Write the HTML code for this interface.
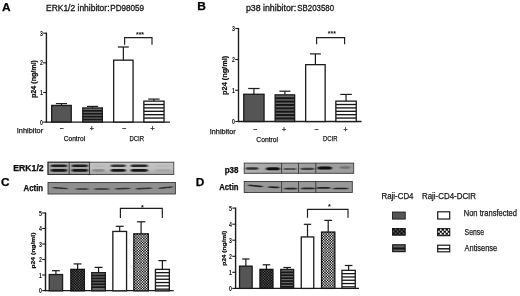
<!DOCTYPE html>
<html><head><meta charset="utf-8"><title>Figure</title>
<style>
html,body{margin:0;padding:0;background:#fff;}
body{width:520px;height:296px;overflow:hidden;}
svg{display:block;font-family:"Liberation Sans",sans-serif;}
</style></head><body>
<svg width="520" height="296" viewBox="0 0 520 296">
<defs>
<linearGradient id="gE" x1="0" y1="0" x2="0" y2="1"><stop offset="0" stop-color="#c6c6c6"/><stop offset="0.6" stop-color="#bdbdbd"/><stop offset="1" stop-color="#a4a4a4"/></linearGradient>
<linearGradient id="gE2" x1="0" y1="0" x2="0" y2="1"><stop offset="0" stop-color="#b4b4b4"/><stop offset="0.5" stop-color="#a2a2a2"/><stop offset="1" stop-color="#9a9a9a"/></linearGradient>
<linearGradient id="gP" x1="0" y1="0" x2="1" y2="0"><stop offset="0" stop-color="#b2b2b2"/><stop offset="0.35" stop-color="#a2a2a2"/><stop offset="1" stop-color="#9c9c9c"/></linearGradient>
<filter id="bl" x="-10%" y="-50%" width="120%" height="200%"><feGaussianBlur stdDeviation="0.9 0.55"/></filter>
<filter id="soft"><feGaussianBlur stdDeviation="0.3"/></filter>
<filter id="soft2"><feGaussianBlur stdDeviation="0.12"/></filter>
</defs>
<rect width="520" height="296" fill="#fff"/>
<g filter="url(#soft)">

<text x="1.9" y="10.8" font-size="11.2" font-weight="bold" fill="#000" stroke="#000" stroke-width="0.25" textLength="8.6" lengthAdjust="spacingAndGlyphs">A</text>
<text y="10.6" font-size="8.5" fill="#161616" stroke="#161616" stroke-width="0.3"><tspan x="46" textLength="63.5" lengthAdjust="spacingAndGlyphs">ERK1/2 inhibitor:</tspan><tspan x="110.3" textLength="33.7" lengthAdjust="spacingAndGlyphs">PD98059</tspan></text>
<line x1="46.4" y1="32.6" x2="46.4" y2="122.69999999999999" stroke="#1a1a1a" stroke-width="1.4"/>
<line x1="45.8" y1="122.1" x2="170" y2="122.1" stroke="#1a1a1a" stroke-width="1.4"/>
<line x1="43.1" y1="33.2" x2="46.4" y2="33.2" stroke="#1a1a1a" stroke-width="1.1"/>
<text x="42.8" y="35.800000000000004" font-size="6.3" font-weight="bold" text-anchor="end" fill="#0a0a0a" textLength="2.9" lengthAdjust="spacingAndGlyphs" >3</text>
<line x1="43.1" y1="62.8" x2="46.4" y2="62.8" stroke="#1a1a1a" stroke-width="1.1"/>
<text x="42.8" y="65.39999999999999" font-size="6.3" font-weight="bold" text-anchor="end" fill="#0a0a0a" textLength="2.9" lengthAdjust="spacingAndGlyphs" >2</text>
<line x1="43.1" y1="92.5" x2="46.4" y2="92.5" stroke="#1a1a1a" stroke-width="1.1"/>
<text x="42.8" y="95.1" font-size="6.3" font-weight="bold" text-anchor="end" fill="#0a0a0a" textLength="2.9" lengthAdjust="spacingAndGlyphs" >1</text>
<line x1="43.1" y1="122.1" x2="46.4" y2="122.1" stroke="#1a1a1a" stroke-width="1.1"/>
<text x="42.8" y="124.69999999999999" font-size="6.3" font-weight="bold" text-anchor="end" fill="#0a0a0a" textLength="2.9" lengthAdjust="spacingAndGlyphs" >0</text>
<line x1="61.45" y1="103.6" x2="61.45" y2="105.45" stroke="#1a1a1a" stroke-width="1.2"/>
<line x1="55.911500000000004" y1="103.6" x2="66.9885" y2="103.6" stroke="#1a1a1a" stroke-width="1.2"/>
<rect x="51.65" y="105.45" width="19.6" height="16.549999999999997" fill="#555" stroke="#1a1a1a" stroke-width="1.3"/>
<line x1="92.55" y1="106.4" x2="92.55" y2="107.95" stroke="#1a1a1a" stroke-width="1.2"/>
<line x1="87.0115" y1="106.4" x2="98.0885" y2="106.4" stroke="#1a1a1a" stroke-width="1.2"/>
<rect x="82.75" y="107.95" width="19.599999999999994" height="14.049999999999997" fill="#676767"/>
<rect x="82.75" y="110.01" width="19.599999999999994" height="1.68" fill="#151515"/>
<rect x="82.75" y="112.91" width="19.599999999999994" height="1.68" fill="#151515"/>
<rect x="82.75" y="115.81" width="19.599999999999994" height="1.68" fill="#151515"/>
<rect x="82.75" y="118.71" width="19.599999999999994" height="1.68" fill="#151515"/>
<rect x="82.75" y="107.95" width="19.599999999999994" height="14.049999999999997" fill="none" stroke="#1a1a1a" stroke-width="1.3"/>
<line x1="123.35" y1="47" x2="123.35" y2="60.15" stroke="#1a1a1a" stroke-width="1.2"/>
<line x1="117.86449999999999" y1="47" x2="128.8355" y2="47" stroke="#1a1a1a" stroke-width="1.2"/>
<rect x="113.65" y="60.15" width="19.399999999999977" height="61.85" fill="#fff" stroke="#1a1a1a" stroke-width="1.3"/>
<line x1="153.95" y1="99.1" x2="153.95" y2="101.15" stroke="#1a1a1a" stroke-width="1.2"/>
<line x1="148.2525" y1="99.1" x2="159.64749999999998" y2="99.1" stroke="#1a1a1a" stroke-width="1.2"/>
<rect x="143.85" y="101.15" width="20.19999999999999" height="20.849999999999994" fill="#fff"/>
<rect x="143.85" y="103.85" width="20.19999999999999" height="1.35" fill="#151515"/>
<rect x="143.85" y="107.23" width="20.19999999999999" height="1.35" fill="#151515"/>
<rect x="143.85" y="110.61" width="20.19999999999999" height="1.35" fill="#151515"/>
<rect x="143.85" y="113.99" width="20.19999999999999" height="1.35" fill="#151515"/>
<rect x="143.85" y="117.37" width="20.19999999999999" height="1.35" fill="#151515"/>
<rect x="143.85" y="101.15" width="20.19999999999999" height="20.849999999999994" fill="none" stroke="#1a1a1a" stroke-width="1.3"/>
<polyline points="124.6,44.7 124.6,37.6 152,37.6 152,44.7" fill="none" stroke="#1a1a1a" stroke-width="1.15"/>
<text x="140" y="37.4" font-size="7" font-weight="bold" text-anchor="middle" fill="#111" >***</text>
<text transform="translate(35.9,79) rotate(-90)" font-size="6.7" font-weight="bold" text-anchor="middle" fill="#0a0a0a" stroke="#0a0a0a" stroke-width="0.2" textLength="38" lengthAdjust="spacingAndGlyphs">p24 (ng/ml)</text>
<text x="16.8" y="133.2" font-size="7.5" font-weight="normal" text-anchor="start" fill="#161616" stroke="#161616" stroke-width="0.25" textLength="26.3" lengthAdjust="spacingAndGlyphs" >Inhibitor</text>
<text x="61.5" y="131.4" font-size="7" font-weight="normal" text-anchor="middle" fill="#161616" stroke="#161616" stroke-width="0.25" >−</text>
<text x="91.8" y="131.4" font-size="7" font-weight="normal" text-anchor="middle" fill="#161616" stroke="#161616" stroke-width="0.25" >+</text>
<text x="124" y="131.4" font-size="7" font-weight="normal" text-anchor="middle" fill="#161616" stroke="#161616" stroke-width="0.25" >−</text>
<text x="152.5" y="131.4" font-size="7" font-weight="normal" text-anchor="middle" fill="#161616" stroke="#161616" stroke-width="0.25" >+</text>
<text x="74.4" y="141.2" font-size="7.5" font-weight="normal" text-anchor="middle" fill="#161616" stroke="#161616" stroke-width="0.25" textLength="21.5" lengthAdjust="spacingAndGlyphs" >Control</text>
<text x="136.8" y="141.2" font-size="7.5" font-weight="normal" text-anchor="middle" fill="#161616" stroke="#161616" stroke-width="0.25" textLength="14.5" lengthAdjust="spacingAndGlyphs" >DCIR</text>
<text x="197.3" y="10.3" font-size="11.2" font-weight="bold" fill="#000" stroke="#000" stroke-width="0.25" textLength="8.6" lengthAdjust="spacingAndGlyphs">B</text>
<text y="10.6" font-size="8.5" fill="#161616" stroke="#161616" stroke-width="0.3"><tspan x="245.9" textLength="50.3" lengthAdjust="spacingAndGlyphs">p38 inhibitor:</tspan><tspan x="297.3" textLength="36.7" lengthAdjust="spacingAndGlyphs">SB203580</tspan></text>
<line x1="238.5" y1="27.9" x2="238.5" y2="122.1" stroke="#1a1a1a" stroke-width="1.4"/>
<line x1="237.9" y1="121.5" x2="361.5" y2="121.5" stroke="#1a1a1a" stroke-width="1.4"/>
<line x1="235.2" y1="28.5" x2="238.5" y2="28.5" stroke="#1a1a1a" stroke-width="1.1"/>
<text x="234.9" y="31.1" font-size="6.3" font-weight="bold" text-anchor="end" fill="#0a0a0a" textLength="2.9" lengthAdjust="spacingAndGlyphs" >3</text>
<line x1="235.2" y1="59.5" x2="238.5" y2="59.5" stroke="#1a1a1a" stroke-width="1.1"/>
<text x="234.9" y="62.1" font-size="6.3" font-weight="bold" text-anchor="end" fill="#0a0a0a" textLength="2.9" lengthAdjust="spacingAndGlyphs" >2</text>
<line x1="235.2" y1="90.3" x2="238.5" y2="90.3" stroke="#1a1a1a" stroke-width="1.1"/>
<text x="234.9" y="92.89999999999999" font-size="6.3" font-weight="bold" text-anchor="end" fill="#0a0a0a" textLength="2.9" lengthAdjust="spacingAndGlyphs" >1</text>
<line x1="235.2" y1="121.5" x2="238.5" y2="121.5" stroke="#1a1a1a" stroke-width="1.1"/>
<text x="234.9" y="124.1" font-size="6.3" font-weight="bold" text-anchor="end" fill="#0a0a0a" textLength="2.9" lengthAdjust="spacingAndGlyphs" >0</text>
<line x1="253.89999999999998" y1="88.5" x2="253.89999999999998" y2="94.25" stroke="#1a1a1a" stroke-width="1.2"/>
<line x1="248.176" y1="88.5" x2="259.62399999999997" y2="88.5" stroke="#1a1a1a" stroke-width="1.2"/>
<rect x="243.75" y="94.25" width="20.30000000000001" height="27.25" fill="#555" stroke="#1a1a1a" stroke-width="1.3"/>
<line x1="284.9" y1="91.2" x2="284.9" y2="94.85000000000001" stroke="#1a1a1a" stroke-width="1.2"/>
<line x1="279.388" y1="91.2" x2="290.412" y2="91.2" stroke="#1a1a1a" stroke-width="1.2"/>
<rect x="275.15" y="94.85000000000001" width="19.500000000000057" height="26.64999999999999" fill="#676767"/>
<rect x="275.15" y="97.24" width="19.500000000000057" height="1.95" fill="#151515"/>
<rect x="275.15" y="100.61" width="19.500000000000057" height="1.95" fill="#151515"/>
<rect x="275.15" y="103.98" width="19.500000000000057" height="1.95" fill="#151515"/>
<rect x="275.15" y="107.35" width="19.500000000000057" height="1.95" fill="#151515"/>
<rect x="275.15" y="110.72" width="19.500000000000057" height="1.95" fill="#151515"/>
<rect x="275.15" y="114.09" width="19.500000000000057" height="1.95" fill="#151515"/>
<rect x="275.15" y="117.46" width="19.500000000000057" height="1.95" fill="#151515"/>
<rect x="275.15" y="94.85000000000001" width="19.500000000000057" height="26.64999999999999" fill="none" stroke="#1a1a1a" stroke-width="1.3"/>
<line x1="315.4" y1="53.9" x2="315.4" y2="64.65" stroke="#1a1a1a" stroke-width="1.2"/>
<line x1="309.888" y1="53.9" x2="320.912" y2="53.9" stroke="#1a1a1a" stroke-width="1.2"/>
<rect x="305.65" y="64.65" width="19.500000000000057" height="56.849999999999994" fill="#fff" stroke="#1a1a1a" stroke-width="1.3"/>
<line x1="346.04999999999995" y1="94.4" x2="346.04999999999995" y2="101.15" stroke="#1a1a1a" stroke-width="1.2"/>
<line x1="340.29949999999997" y1="94.4" x2="351.80049999999994" y2="94.4" stroke="#1a1a1a" stroke-width="1.2"/>
<rect x="335.84999999999997" y="101.15" width="20.400000000000034" height="20.349999999999994" fill="#fff"/>
<rect x="335.84999999999997" y="103.85" width="20.400000000000034" height="1.35" fill="#151515"/>
<rect x="335.84999999999997" y="107.23" width="20.400000000000034" height="1.35" fill="#151515"/>
<rect x="335.84999999999997" y="110.61" width="20.400000000000034" height="1.35" fill="#151515"/>
<rect x="335.84999999999997" y="113.99" width="20.400000000000034" height="1.35" fill="#151515"/>
<rect x="335.84999999999997" y="117.37" width="20.400000000000034" height="1.35" fill="#151515"/>
<rect x="335.84999999999997" y="101.15" width="20.400000000000034" height="20.349999999999994" fill="none" stroke="#1a1a1a" stroke-width="1.3"/>
<polyline points="316.6,44.3 316.6,37.6 344.6,37.6 344.6,44.3" fill="none" stroke="#1a1a1a" stroke-width="1.15"/>
<text x="331.9" y="36.1" font-size="7" font-weight="bold" text-anchor="middle" fill="#111" >***</text>
<text transform="translate(227.2,75.4) rotate(-90)" font-size="6.7" font-weight="bold" text-anchor="middle" fill="#0a0a0a" stroke="#0a0a0a" stroke-width="0.2" textLength="39" lengthAdjust="spacingAndGlyphs">p24 (ng/ml)</text>
<text x="209.8" y="133.7" font-size="7.5" font-weight="normal" text-anchor="start" fill="#161616" stroke="#161616" stroke-width="0.25" textLength="25.8" lengthAdjust="spacingAndGlyphs" >Inhibitor</text>
<text x="255" y="131.9" font-size="7" font-weight="normal" text-anchor="middle" fill="#161616" stroke="#161616" stroke-width="0.25" >−</text>
<text x="284" y="131.9" font-size="7" font-weight="normal" text-anchor="middle" fill="#161616" stroke="#161616" stroke-width="0.25" >+</text>
<text x="316.2" y="131.9" font-size="7" font-weight="normal" text-anchor="middle" fill="#161616" stroke="#161616" stroke-width="0.25" >−</text>
<text x="345.5" y="131.9" font-size="7" font-weight="normal" text-anchor="middle" fill="#161616" stroke="#161616" stroke-width="0.25" >+</text>
<text x="267.2" y="142" font-size="7.5" font-weight="normal" text-anchor="middle" fill="#161616" stroke="#161616" stroke-width="0.25" textLength="21.7" lengthAdjust="spacingAndGlyphs" >Control</text>
<text x="330.3" y="141" font-size="7.5" font-weight="normal" text-anchor="middle" fill="#161616" stroke="#161616" stroke-width="0.25" textLength="14.6" lengthAdjust="spacingAndGlyphs" >DCIR</text>
<text x="13.3" y="171.4" font-size="8.4" font-weight="bold" fill="#0a0a0a" stroke="#0a0a0a" stroke-width="0.25" textLength="30.3" lengthAdjust="spacingAndGlyphs">ERK1/2</text>
<text x="23.5" y="191.4" font-size="8.4" font-weight="bold" fill="#0a0a0a" stroke="#0a0a0a" stroke-width="0.25" textLength="19.6" lengthAdjust="spacingAndGlyphs">Actin</text>
<text x="1.0" y="185.6" font-size="11.2" font-weight="bold" fill="#000" stroke="#000" stroke-width="0.25" textLength="8.6" lengthAdjust="spacingAndGlyphs">C</text>
<rect x="48" y="162.2" width="125.8" height="12.3" fill="url(#gE)"/>
<rect x="48" y="162.2" width="41.6" height="12.3" fill="url(#gE2)"/>
<g filter="url(#bl)">
<rect x="50.5" y="164.5" width="16.799999999999997" height="2.6" rx="3" ry="1.3" fill="#141414" opacity="0.95"/>
<rect x="50.5" y="169.0" width="16.799999999999997" height="2.8" rx="3" ry="1.4" fill="#141414" opacity="1"/>
<rect x="71.5" y="164.5" width="16.700000000000003" height="2.6" rx="3" ry="1.3" fill="#141414" opacity="0.95"/>
<rect x="71.5" y="169.0" width="16.700000000000003" height="2.8" rx="3" ry="1.4" fill="#141414" opacity="1"/>
<rect x="92" y="164.5" width="13" height="2.6" rx="3" ry="1.3" fill="#141414" opacity="0.05"/>
<rect x="92" y="169.0" width="13" height="2.8" rx="3" ry="1.4" fill="#141414" opacity="0.25"/>
<rect x="110.5" y="164.5" width="15.5" height="2.6" rx="3" ry="1.3" fill="#141414" opacity="0.8"/>
<rect x="110.5" y="169.0" width="15.5" height="2.8" rx="3" ry="1.4" fill="#141414" opacity="1"/>
<rect x="130.5" y="164.5" width="17.5" height="2.6" rx="3" ry="1.3" fill="#141414" opacity="0.9"/>
<rect x="130.5" y="169.0" width="17.5" height="2.8" rx="3" ry="1.4" fill="#141414" opacity="1"/>
<rect x="155" y="164.5" width="16" height="2.6" rx="3" ry="1.3" fill="#141414" opacity="0.04"/>
<rect x="155" y="169.0" width="16" height="2.8" rx="3" ry="1.4" fill="#141414" opacity="0.1"/>
</g>
<rect x="48" y="162.2" width="125.8" height="12.3" fill="none" stroke="#444" stroke-width="0.9"/>
<rect x="48" y="162.2" width="41.6" height="12.3" fill="none" stroke="#2e2e2e" stroke-width="0.9"/>
<line x1="69.2" y1="162.2" x2="69.2" y2="174.5" stroke="#2a2a2a" stroke-width="0.8"/>
<rect x="48" y="182.5" width="127.4" height="11.5" fill="#8f8f8f" stroke="#3a3a3a" stroke-width="0.9"/>
<g filter="url(#bl)">
<rect x="52.5" y="187.45" width="15.5" height="1.5" rx="3" ry="0.75" fill="#1c1c1c" opacity="0.85" transform="rotate(4 60.25 188.2)"/>
<rect x="75.5" y="188.25" width="13.299999999999997" height="1.5" rx="3" ry="0.75" fill="#1c1c1c" opacity="0.85"/>
<rect x="94" y="188.15" width="15.5" height="1.5" rx="3" ry="0.75" fill="#1c1c1c" opacity="0.85"/>
<rect x="115" y="187.85" width="15.5" height="1.5" rx="3" ry="0.75" fill="#1c1c1c" opacity="0.85" transform="rotate(-2 122.75 188.6)"/>
<rect x="135.5" y="187.75" width="16.5" height="1.5" rx="3" ry="0.75" fill="#1c1c1c" opacity="0.85" transform="rotate(-2 143.75 188.5)"/>
<rect x="158.5" y="186.85" width="14.5" height="1.5" rx="3" ry="0.75" fill="#1c1c1c" opacity="0.85" transform="rotate(-6 165.75 187.6)"/>
</g>
<line x1="45.5" y1="212.4" x2="45.5" y2="291.20000000000005" stroke="#1a1a1a" stroke-width="1.4"/>
<line x1="44.9" y1="290.6" x2="173.6" y2="290.6" stroke="#1a1a1a" stroke-width="1.4"/>
<line x1="42.2" y1="213" x2="45.5" y2="213" stroke="#1a1a1a" stroke-width="1.1"/>
<text x="41.9" y="215.6" font-size="6.3" font-weight="bold" text-anchor="end" fill="#0a0a0a" textLength="2.9" lengthAdjust="spacingAndGlyphs" >5</text>
<line x1="42.2" y1="228.5" x2="45.5" y2="228.5" stroke="#1a1a1a" stroke-width="1.1"/>
<text x="41.9" y="231.1" font-size="6.3" font-weight="bold" text-anchor="end" fill="#0a0a0a" textLength="2.9" lengthAdjust="spacingAndGlyphs" >4</text>
<line x1="42.2" y1="244" x2="45.5" y2="244" stroke="#1a1a1a" stroke-width="1.1"/>
<text x="41.9" y="246.6" font-size="6.3" font-weight="bold" text-anchor="end" fill="#0a0a0a" textLength="2.9" lengthAdjust="spacingAndGlyphs" >3</text>
<line x1="42.2" y1="259.5" x2="45.5" y2="259.5" stroke="#1a1a1a" stroke-width="1.1"/>
<text x="41.9" y="262.1" font-size="6.3" font-weight="bold" text-anchor="end" fill="#0a0a0a" textLength="2.9" lengthAdjust="spacingAndGlyphs" >2</text>
<line x1="42.2" y1="275" x2="45.5" y2="275" stroke="#1a1a1a" stroke-width="1.1"/>
<text x="41.9" y="277.6" font-size="6.3" font-weight="bold" text-anchor="end" fill="#0a0a0a" textLength="2.9" lengthAdjust="spacingAndGlyphs" >1</text>
<line x1="42.2" y1="290.6" x2="45.5" y2="290.6" stroke="#1a1a1a" stroke-width="1.1"/>
<text x="41.9" y="293.20000000000005" font-size="6.3" font-weight="bold" text-anchor="end" fill="#0a0a0a" textLength="2.9" lengthAdjust="spacingAndGlyphs" >0</text>
<line x1="55.900000000000006" y1="270.7" x2="55.900000000000006" y2="274.54999999999995" stroke="#1a1a1a" stroke-width="1.2"/>
<line x1="52.031000000000006" y1="270.7" x2="59.769000000000005" y2="270.7" stroke="#1a1a1a" stroke-width="1.2"/>
<rect x="49.25" y="274.54999999999995" width="13.300000000000004" height="16.250000000000057" fill="#555" stroke="#1a1a1a" stroke-width="1.3"/>
<line x1="77.6" y1="263.9" x2="77.6" y2="269.34999999999997" stroke="#1a1a1a" stroke-width="1.2"/>
<line x1="73.678" y1="263.9" x2="81.52199999999999" y2="263.9" stroke="#1a1a1a" stroke-width="1.2"/>
<rect x="70.85000000000001" y="269.34999999999997" width="13.499999999999986" height="21.450000000000045" fill="#5a5a5a" stroke="#1a1a1a" stroke-width="1.3"/>
<line x1="98.55" y1="267.4" x2="98.55" y2="272.65" stroke="#1a1a1a" stroke-width="1.2"/>
<line x1="94.6015" y1="267.4" x2="102.49849999999999" y2="267.4" stroke="#1a1a1a" stroke-width="1.2"/>
<rect x="91.75" y="272.65" width="13.599999999999994" height="18.150000000000034" fill="#676767"/>
<rect x="91.75" y="274.71" width="13.599999999999994" height="1.68" fill="#151515"/>
<rect x="91.75" y="277.61" width="13.599999999999994" height="1.68" fill="#151515"/>
<rect x="91.75" y="280.51" width="13.599999999999994" height="1.68" fill="#151515"/>
<rect x="91.75" y="283.41" width="13.599999999999994" height="1.68" fill="#151515"/>
<rect x="91.75" y="286.31" width="13.599999999999994" height="1.68" fill="#151515"/>
<rect x="91.75" y="272.65" width="13.599999999999994" height="18.150000000000034" fill="none" stroke="#1a1a1a" stroke-width="1.3"/>
<line x1="119.7" y1="226.3" x2="119.7" y2="231.45000000000002" stroke="#1a1a1a" stroke-width="1.2"/>
<line x1="115.72500000000001" y1="226.3" x2="123.675" y2="226.3" stroke="#1a1a1a" stroke-width="1.2"/>
<rect x="112.85000000000001" y="231.45000000000002" width="13.699999999999989" height="59.349999999999994" fill="#fff" stroke="#1a1a1a" stroke-width="1.3"/>
<line x1="141.1" y1="221.8" x2="141.1" y2="233.85" stroke="#1a1a1a" stroke-width="1.2"/>
<line x1="136.91299999999998" y1="221.8" x2="145.287" y2="221.8" stroke="#1a1a1a" stroke-width="1.2"/>
<rect x="133.85" y="233.85" width="14.5" height="56.95000000000002" fill="#fff" stroke="#1a1a1a" stroke-width="1.3"/>
<line x1="162.4" y1="260.6" x2="162.4" y2="269.34999999999997" stroke="#1a1a1a" stroke-width="1.2"/>
<line x1="158.372" y1="260.6" x2="166.428" y2="260.6" stroke="#1a1a1a" stroke-width="1.2"/>
<rect x="155.45000000000002" y="269.34999999999997" width="13.899999999999977" height="21.450000000000045" fill="#fff"/>
<rect x="155.45000000000002" y="271.99" width="13.899999999999977" height="1.32" fill="#151515"/>
<rect x="155.45000000000002" y="275.29" width="13.899999999999977" height="1.32" fill="#151515"/>
<rect x="155.45000000000002" y="278.59" width="13.899999999999977" height="1.32" fill="#151515"/>
<rect x="155.45000000000002" y="281.89" width="13.899999999999977" height="1.32" fill="#151515"/>
<rect x="155.45000000000002" y="285.19" width="13.899999999999977" height="1.32" fill="#151515"/>
<rect x="155.45000000000002" y="288.49" width="13.899999999999977" height="1.32" fill="#151515"/>
<rect x="155.45000000000002" y="269.34999999999997" width="13.899999999999977" height="21.450000000000045" fill="none" stroke="#1a1a1a" stroke-width="1.3"/>
<polyline points="120.4,218 120.4,208.3 162.3,208.3 162.3,218" fill="none" stroke="#1a1a1a" stroke-width="1.15"/>
<text x="142.4" y="209.5" font-size="7" font-weight="bold" text-anchor="middle" fill="#111" >*</text>
<text transform="translate(35.3,250.6) rotate(-90)" font-size="6.1" font-weight="bold" text-anchor="middle" fill="#0a0a0a" stroke="#0a0a0a" stroke-width="0.2" textLength="36" lengthAdjust="spacingAndGlyphs">p24 (ng/ml)</text>
<text x="224.7" y="172.5" font-size="8.4" font-weight="bold" fill="#0a0a0a" stroke="#0a0a0a" stroke-width="0.25" textLength="13.8" lengthAdjust="spacingAndGlyphs">p38</text>
<text x="219.2" y="189.6" font-size="8.4" font-weight="bold" fill="#0a0a0a" stroke="#0a0a0a" stroke-width="0.25" textLength="19.3" lengthAdjust="spacingAndGlyphs">Actin</text>
<text x="195.8" y="186.1" font-size="11.2" font-weight="bold" fill="#000" stroke="#000" stroke-width="0.25" textLength="8.6" lengthAdjust="spacingAndGlyphs">D</text>
<rect x="244.2" y="163.1" width="109.5" height="10.2" fill="url(#gP)" stroke="#3a3a3a" stroke-width="0.9"/>
<line x1="281.6" y1="163.1" x2="281.6" y2="173.3" stroke="#2a2a2a" stroke-width="0.8"/>
<line x1="298.5" y1="163.1" x2="298.5" y2="173.3" stroke="#2a2a2a" stroke-width="0.8"/>
<line x1="315.8" y1="163.1" x2="315.8" y2="173.3" stroke="#2a2a2a" stroke-width="0.8"/>
<g filter="url(#bl)">
<rect x="245.5" y="167.15" width="13.0" height="2.7" rx="3" ry="1.35" fill="#0c0c0c" opacity="0.8"/>
<rect x="266" y="167.3" width="14" height="3.0" rx="3" ry="1.5" fill="#0c0c0c" opacity="1"/>
<rect x="283.5" y="167.9" width="13.0" height="2.0" rx="3" ry="1.0" fill="#0c0c0c" opacity="0.55"/>
<rect x="300.5" y="167.70000000000002" width="14.0" height="2.2" rx="3" ry="1.1" fill="#0c0c0c" opacity="0.7"/>
<rect x="317.5" y="166.6" width="14.5" height="3.0" rx="3" ry="1.5" fill="#0c0c0c" opacity="1"/>
<rect x="339.5" y="166.3" width="11.0" height="2.4" rx="2.75" ry="1.2" fill="#0c0c0c" opacity="0.28"/>
</g>
<rect x="244.2" y="181.5" width="108.1" height="11" fill="#989898" stroke="#3a3a3a" stroke-width="0.9"/>
<line x1="281.6" y1="181.5" x2="281.6" y2="192.5" stroke="#2a2a2a" stroke-width="0.8"/>
<line x1="298.5" y1="181.5" x2="298.5" y2="192.5" stroke="#2a2a2a" stroke-width="0.8"/>
<line x1="315.8" y1="181.5" x2="315.8" y2="192.5" stroke="#2a2a2a" stroke-width="0.8"/>
<g filter="url(#bl)">
<rect x="248" y="185.05" width="15" height="1.7" rx="3" ry="0.85" fill="#151515" opacity="0.9" transform="rotate(5 255.5 185.9)"/>
<rect x="268" y="186.45000000000002" width="11.5" height="1.7" rx="2.875" ry="0.85" fill="#151515" opacity="0.9" transform="rotate(3 273.75 187.3)"/>
<rect x="284" y="187.75" width="13.5" height="1.7" rx="3" ry="0.85" fill="#151515" opacity="0.9"/>
<rect x="301" y="187.55" width="14" height="1.7" rx="3" ry="0.85" fill="#151515" opacity="0.9"/>
<rect x="316.5" y="187.05" width="14.0" height="1.7" rx="3" ry="0.85" fill="#151515" opacity="0.9"/>
<rect x="333" y="187.65" width="15.5" height="1.7" rx="3" ry="0.85" fill="#151515" opacity="0.9"/>
</g>
<line x1="235.6" y1="207.5" x2="235.6" y2="289.0" stroke="#1a1a1a" stroke-width="1.4"/>
<line x1="235.0" y1="288.4" x2="359" y2="288.4" stroke="#1a1a1a" stroke-width="1.4"/>
<line x1="232.29999999999998" y1="208.1" x2="235.6" y2="208.1" stroke="#1a1a1a" stroke-width="1.1"/>
<text x="232.0" y="210.7" font-size="6.3" font-weight="bold" text-anchor="end" fill="#0a0a0a" textLength="2.9" lengthAdjust="spacingAndGlyphs" >5</text>
<line x1="232.29999999999998" y1="224.2" x2="235.6" y2="224.2" stroke="#1a1a1a" stroke-width="1.1"/>
<text x="232.0" y="226.79999999999998" font-size="6.3" font-weight="bold" text-anchor="end" fill="#0a0a0a" textLength="2.9" lengthAdjust="spacingAndGlyphs" >4</text>
<line x1="232.29999999999998" y1="240.2" x2="235.6" y2="240.2" stroke="#1a1a1a" stroke-width="1.1"/>
<text x="232.0" y="242.79999999999998" font-size="6.3" font-weight="bold" text-anchor="end" fill="#0a0a0a" textLength="2.9" lengthAdjust="spacingAndGlyphs" >3</text>
<line x1="232.29999999999998" y1="256.3" x2="235.6" y2="256.3" stroke="#1a1a1a" stroke-width="1.1"/>
<text x="232.0" y="258.90000000000003" font-size="6.3" font-weight="bold" text-anchor="end" fill="#0a0a0a" textLength="2.9" lengthAdjust="spacingAndGlyphs" >2</text>
<line x1="232.29999999999998" y1="272.3" x2="235.6" y2="272.3" stroke="#1a1a1a" stroke-width="1.1"/>
<text x="232.0" y="274.90000000000003" font-size="6.3" font-weight="bold" text-anchor="end" fill="#0a0a0a" textLength="2.9" lengthAdjust="spacingAndGlyphs" >1</text>
<line x1="232.29999999999998" y1="288.4" x2="235.6" y2="288.4" stroke="#1a1a1a" stroke-width="1.1"/>
<text x="232.0" y="291.0" font-size="6.3" font-weight="bold" text-anchor="end" fill="#0a0a0a" textLength="2.9" lengthAdjust="spacingAndGlyphs" >0</text>
<line x1="245.85000000000002" y1="259" x2="245.85000000000002" y2="266.15" stroke="#1a1a1a" stroke-width="1.2"/>
<line x1="242.1665" y1="259" x2="249.53350000000003" y2="259" stroke="#1a1a1a" stroke-width="1.2"/>
<rect x="239.55" y="266.15" width="12.599999999999994" height="22.25" fill="#555" stroke="#1a1a1a" stroke-width="1.3"/>
<line x1="266.45000000000005" y1="264.8" x2="266.45000000000005" y2="269.34999999999997" stroke="#1a1a1a" stroke-width="1.2"/>
<line x1="262.6605" y1="264.8" x2="270.2395000000001" y2="264.8" stroke="#1a1a1a" stroke-width="1.2"/>
<rect x="259.95" y="269.34999999999997" width="13.000000000000057" height="19.05000000000001" fill="#5a5a5a" stroke="#1a1a1a" stroke-width="1.3"/>
<line x1="287.20000000000005" y1="267.5" x2="287.20000000000005" y2="269.45" stroke="#1a1a1a" stroke-width="1.2"/>
<line x1="283.437" y1="267.5" x2="290.9630000000001" y2="267.5" stroke="#1a1a1a" stroke-width="1.2"/>
<rect x="280.75" y="269.45" width="12.900000000000034" height="18.94999999999999" fill="#676767"/>
<rect x="280.75" y="271.51" width="12.900000000000034" height="1.68" fill="#151515"/>
<rect x="280.75" y="274.41" width="12.900000000000034" height="1.68" fill="#151515"/>
<rect x="280.75" y="277.31" width="12.900000000000034" height="1.68" fill="#151515"/>
<rect x="280.75" y="280.21" width="12.900000000000034" height="1.68" fill="#151515"/>
<rect x="280.75" y="283.11" width="12.900000000000034" height="1.68" fill="#151515"/>
<rect x="280.75" y="286.01" width="12.900000000000034" height="1.68" fill="#151515"/>
<rect x="280.75" y="269.45" width="12.900000000000034" height="18.94999999999999" fill="none" stroke="#1a1a1a" stroke-width="1.3"/>
<line x1="307.5" y1="224.3" x2="307.5" y2="236.95000000000002" stroke="#1a1a1a" stroke-width="1.2"/>
<line x1="303.843" y1="224.3" x2="311.157" y2="224.3" stroke="#1a1a1a" stroke-width="1.2"/>
<rect x="301.25" y="236.95000000000002" width="12.5" height="51.44999999999996" fill="#fff" stroke="#1a1a1a" stroke-width="1.3"/>
<line x1="328.2" y1="220.4" x2="328.2" y2="232.05" stroke="#1a1a1a" stroke-width="1.2"/>
<line x1="324.33099999999996" y1="220.4" x2="332.069" y2="220.4" stroke="#1a1a1a" stroke-width="1.2"/>
<rect x="321.54999999999995" y="232.05" width="13.300000000000068" height="56.349999999999966" fill="#fff" stroke="#1a1a1a" stroke-width="1.3"/>
<line x1="348.6" y1="265.5" x2="348.6" y2="270.34999999999997" stroke="#1a1a1a" stroke-width="1.2"/>
<line x1="344.731" y1="265.5" x2="352.46900000000005" y2="265.5" stroke="#1a1a1a" stroke-width="1.2"/>
<rect x="341.95" y="270.34999999999997" width="13.300000000000011" height="18.05000000000001" fill="#fff"/>
<rect x="341.95" y="272.99" width="13.300000000000011" height="1.32" fill="#151515"/>
<rect x="341.95" y="276.29" width="13.300000000000011" height="1.32" fill="#151515"/>
<rect x="341.95" y="279.59" width="13.300000000000011" height="1.32" fill="#151515"/>
<rect x="341.95" y="282.89" width="13.300000000000011" height="1.32" fill="#151515"/>
<rect x="341.95" y="286.19" width="13.300000000000011" height="1.32" fill="#151515"/>
<rect x="341.95" y="270.34999999999997" width="13.300000000000011" height="18.05000000000001" fill="none" stroke="#1a1a1a" stroke-width="1.3"/>
<polyline points="307.5,217.8 307.5,209.3 348,209.3 348,217.8" fill="none" stroke="#1a1a1a" stroke-width="1.15"/>
<text x="329.4" y="208.8" font-size="7" font-weight="bold" text-anchor="middle" fill="#111" >*</text>
<text transform="translate(225.7,248.3) rotate(-90)" font-size="6.1" font-weight="bold" text-anchor="middle" fill="#0a0a0a" stroke="#0a0a0a" stroke-width="0.2" textLength="35" lengthAdjust="spacingAndGlyphs">p24 (ng/ml)</text>
<text x="381.5" y="198.5" font-size="8.5" font-weight="normal" text-anchor="start" fill="#161616" stroke="#161616" stroke-width="0.25" textLength="32" lengthAdjust="spacingAndGlyphs" >Raji-CD4</text>
<text x="422" y="199.3" font-size="8.5" font-weight="normal" text-anchor="start" fill="#161616" stroke="#161616" stroke-width="0.25" textLength="54" lengthAdjust="spacingAndGlyphs" >Raji-CD4-DCIR</text>
<rect x="392.55" y="212.04999999999998" width="12.699999999999989" height="7.050000000000011" fill="#555" stroke="#1a1a1a" stroke-width="0.9"/>
<rect x="392.55" y="228.45" width="12.699999999999989" height="6.75" fill="#5a5a5a" stroke="#1a1a1a" stroke-width="0.9"/>
<rect x="392.70000000000005" y="244.79999999999998" width="12.39999999999992" height="6.800000000000011" fill="#676767"/>
<rect x="392.70000000000005" y="247.43" width="12.39999999999992" height="2.15" fill="#151515"/>
<rect x="392.70000000000005" y="244.79999999999998" width="12.39999999999992" height="6.800000000000011" fill="none" stroke="#1a1a1a" stroke-width="1.2"/>
<rect x="437.70000000000005" y="211.79999999999998" width="11.999999999999943" height="7.200000000000017" fill="#fff" stroke="#1a1a1a" stroke-width="1.2"/>
<rect x="437.65000000000003" y="228.65" width="12.099999999999966" height="7.049999999999983" fill="#fff" stroke="#1a1a1a" stroke-width="1.1"/>
<rect x="437.70000000000005" y="245.2" width="11.999999999999943" height="6.600000000000023" fill="#fff"/>
<rect x="437.70000000000005" y="248.08" width="11.999999999999943" height="1.44" fill="#151515"/>
<rect x="437.70000000000005" y="245.2" width="11.999999999999943" height="6.600000000000023" fill="none" stroke="#1a1a1a" stroke-width="1.2"/>
<text x="463.7" y="215.6" font-size="9" font-weight="normal" text-anchor="start" fill="#161616" stroke="#161616" stroke-width="0.25" textLength="53.3" lengthAdjust="spacingAndGlyphs" >Non transfected</text>
<text x="464.6" y="235.4" font-size="9" font-weight="normal" text-anchor="start" fill="#161616" stroke="#161616" stroke-width="0.25" textLength="19.5" lengthAdjust="spacingAndGlyphs" >Sense</text>
<text x="464.6" y="251.2" font-size="9" font-weight="normal" text-anchor="start" fill="#161616" stroke="#161616" stroke-width="0.25" textLength="32.5" lengthAdjust="spacingAndGlyphs" >Antisense</text>
</g>
<g filter="url(#soft2)">
<g stroke="#0a0a0a" stroke-width="1.32" stroke-dasharray="1.50 1.14"><path d="M70.85000000000001 270.01H84.35" stroke-dashoffset="0"/><path d="M70.85000000000001 271.33H84.35" stroke-dashoffset="1.32"/><path d="M70.85000000000001 272.65H84.35" stroke-dashoffset="0"/><path d="M70.85000000000001 273.97H84.35" stroke-dashoffset="1.32"/><path d="M70.85000000000001 275.29H84.35" stroke-dashoffset="0"/><path d="M70.85000000000001 276.61H84.35" stroke-dashoffset="1.32"/><path d="M70.85000000000001 277.93H84.35" stroke-dashoffset="0"/><path d="M70.85000000000001 279.25H84.35" stroke-dashoffset="1.32"/><path d="M70.85000000000001 280.57H84.35" stroke-dashoffset="0"/><path d="M70.85000000000001 281.89H84.35" stroke-dashoffset="1.32"/><path d="M70.85000000000001 283.21H84.35" stroke-dashoffset="0"/><path d="M70.85000000000001 284.53H84.35" stroke-dashoffset="1.32"/><path d="M70.85000000000001 285.85H84.35" stroke-dashoffset="0"/><path d="M70.85000000000001 287.17H84.35" stroke-dashoffset="1.32"/><path d="M70.85000000000001 288.49H84.35" stroke-dashoffset="0"/><path d="M70.85000000000001 289.81H84.35" stroke-dashoffset="1.32"/><path d="M70.85000000000001 290.63H84.35" stroke-dashoffset="0" stroke-width="0.33"/></g>
<g stroke="#0a0a0a" stroke-width="1.32" stroke-dasharray="1.50 1.14"><path d="M133.85 234.51H148.35" stroke-dashoffset="0"/><path d="M133.85 235.83H148.35" stroke-dashoffset="1.32"/><path d="M133.85 237.15H148.35" stroke-dashoffset="0"/><path d="M133.85 238.47H148.35" stroke-dashoffset="1.32"/><path d="M133.85 239.79H148.35" stroke-dashoffset="0"/><path d="M133.85 241.11H148.35" stroke-dashoffset="1.32"/><path d="M133.85 242.43H148.35" stroke-dashoffset="0"/><path d="M133.85 243.75H148.35" stroke-dashoffset="1.32"/><path d="M133.85 245.07H148.35" stroke-dashoffset="0"/><path d="M133.85 246.39H148.35" stroke-dashoffset="1.32"/><path d="M133.85 247.71H148.35" stroke-dashoffset="0"/><path d="M133.85 249.03H148.35" stroke-dashoffset="1.32"/><path d="M133.85 250.35H148.35" stroke-dashoffset="0"/><path d="M133.85 251.67H148.35" stroke-dashoffset="1.32"/><path d="M133.85 252.99H148.35" stroke-dashoffset="0"/><path d="M133.85 254.31H148.35" stroke-dashoffset="1.32"/><path d="M133.85 255.63H148.35" stroke-dashoffset="0"/><path d="M133.85 256.95H148.35" stroke-dashoffset="1.32"/><path d="M133.85 258.27H148.35" stroke-dashoffset="0"/><path d="M133.85 259.59H148.35" stroke-dashoffset="1.32"/><path d="M133.85 260.91H148.35" stroke-dashoffset="0"/><path d="M133.85 262.23H148.35" stroke-dashoffset="1.32"/><path d="M133.85 263.55H148.35" stroke-dashoffset="0"/><path d="M133.85 264.87H148.35" stroke-dashoffset="1.32"/><path d="M133.85 266.19H148.35" stroke-dashoffset="0"/><path d="M133.85 267.51H148.35" stroke-dashoffset="1.32"/><path d="M133.85 268.83H148.35" stroke-dashoffset="0"/><path d="M133.85 270.15H148.35" stroke-dashoffset="1.32"/><path d="M133.85 271.47H148.35" stroke-dashoffset="0"/><path d="M133.85 272.79H148.35" stroke-dashoffset="1.32"/><path d="M133.85 274.11H148.35" stroke-dashoffset="0"/><path d="M133.85 275.43H148.35" stroke-dashoffset="1.32"/><path d="M133.85 276.75H148.35" stroke-dashoffset="0"/><path d="M133.85 278.07H148.35" stroke-dashoffset="1.32"/><path d="M133.85 279.39H148.35" stroke-dashoffset="0"/><path d="M133.85 280.71H148.35" stroke-dashoffset="1.32"/><path d="M133.85 282.03H148.35" stroke-dashoffset="0"/><path d="M133.85 283.35H148.35" stroke-dashoffset="1.32"/><path d="M133.85 284.67H148.35" stroke-dashoffset="0"/><path d="M133.85 285.99H148.35" stroke-dashoffset="1.32"/><path d="M133.85 287.31H148.35" stroke-dashoffset="0"/><path d="M133.85 288.63H148.35" stroke-dashoffset="1.32"/><path d="M133.85 289.95H148.35" stroke-dashoffset="0"/></g>
<g stroke="#0a0a0a" stroke-width="1.32" stroke-dasharray="1.50 1.14"><path d="M259.95 270.01H272.95000000000005" stroke-dashoffset="0"/><path d="M259.95 271.33H272.95000000000005" stroke-dashoffset="1.32"/><path d="M259.95 272.65H272.95000000000005" stroke-dashoffset="0"/><path d="M259.95 273.97H272.95000000000005" stroke-dashoffset="1.32"/><path d="M259.95 275.29H272.95000000000005" stroke-dashoffset="0"/><path d="M259.95 276.61H272.95000000000005" stroke-dashoffset="1.32"/><path d="M259.95 277.93H272.95000000000005" stroke-dashoffset="0"/><path d="M259.95 279.25H272.95000000000005" stroke-dashoffset="1.32"/><path d="M259.95 280.57H272.95000000000005" stroke-dashoffset="0"/><path d="M259.95 281.89H272.95000000000005" stroke-dashoffset="1.32"/><path d="M259.95 283.21H272.95000000000005" stroke-dashoffset="0"/><path d="M259.95 284.53H272.95000000000005" stroke-dashoffset="1.32"/><path d="M259.95 285.85H272.95000000000005" stroke-dashoffset="0"/><path d="M259.95 287.17H272.95000000000005" stroke-dashoffset="1.32"/><path d="M259.95 288.11H272.95000000000005" stroke-dashoffset="0" stroke-width="0.57"/></g>
<g stroke="#0a0a0a" stroke-width="1.32" stroke-dasharray="1.50 1.14"><path d="M321.54999999999995 232.71H334.85" stroke-dashoffset="0"/><path d="M321.54999999999995 234.03H334.85" stroke-dashoffset="1.32"/><path d="M321.54999999999995 235.35H334.85" stroke-dashoffset="0"/><path d="M321.54999999999995 236.67H334.85" stroke-dashoffset="1.32"/><path d="M321.54999999999995 237.99H334.85" stroke-dashoffset="0"/><path d="M321.54999999999995 239.31H334.85" stroke-dashoffset="1.32"/><path d="M321.54999999999995 240.63H334.85" stroke-dashoffset="0"/><path d="M321.54999999999995 241.95H334.85" stroke-dashoffset="1.32"/><path d="M321.54999999999995 243.27H334.85" stroke-dashoffset="0"/><path d="M321.54999999999995 244.59H334.85" stroke-dashoffset="1.32"/><path d="M321.54999999999995 245.91H334.85" stroke-dashoffset="0"/><path d="M321.54999999999995 247.23H334.85" stroke-dashoffset="1.32"/><path d="M321.54999999999995 248.55H334.85" stroke-dashoffset="0"/><path d="M321.54999999999995 249.87H334.85" stroke-dashoffset="1.32"/><path d="M321.54999999999995 251.19H334.85" stroke-dashoffset="0"/><path d="M321.54999999999995 252.51H334.85" stroke-dashoffset="1.32"/><path d="M321.54999999999995 253.83H334.85" stroke-dashoffset="0"/><path d="M321.54999999999995 255.15H334.85" stroke-dashoffset="1.32"/><path d="M321.54999999999995 256.47H334.85" stroke-dashoffset="0"/><path d="M321.54999999999995 257.79H334.85" stroke-dashoffset="1.32"/><path d="M321.54999999999995 259.11H334.85" stroke-dashoffset="0"/><path d="M321.54999999999995 260.43H334.85" stroke-dashoffset="1.32"/><path d="M321.54999999999995 261.75H334.85" stroke-dashoffset="0"/><path d="M321.54999999999995 263.07H334.85" stroke-dashoffset="1.32"/><path d="M321.54999999999995 264.39H334.85" stroke-dashoffset="0"/><path d="M321.54999999999995 265.71H334.85" stroke-dashoffset="1.32"/><path d="M321.54999999999995 267.03H334.85" stroke-dashoffset="0"/><path d="M321.54999999999995 268.35H334.85" stroke-dashoffset="1.32"/><path d="M321.54999999999995 269.67H334.85" stroke-dashoffset="0"/><path d="M321.54999999999995 270.99H334.85" stroke-dashoffset="1.32"/><path d="M321.54999999999995 272.31H334.85" stroke-dashoffset="0"/><path d="M321.54999999999995 273.63H334.85" stroke-dashoffset="1.32"/><path d="M321.54999999999995 274.95H334.85" stroke-dashoffset="0"/><path d="M321.54999999999995 276.27H334.85" stroke-dashoffset="1.32"/><path d="M321.54999999999995 277.59H334.85" stroke-dashoffset="0"/><path d="M321.54999999999995 278.91H334.85" stroke-dashoffset="1.32"/><path d="M321.54999999999995 280.23H334.85" stroke-dashoffset="0"/><path d="M321.54999999999995 281.55H334.85" stroke-dashoffset="1.32"/><path d="M321.54999999999995 282.87H334.85" stroke-dashoffset="0"/><path d="M321.54999999999995 284.19H334.85" stroke-dashoffset="1.32"/><path d="M321.54999999999995 285.51H334.85" stroke-dashoffset="0"/><path d="M321.54999999999995 286.83H334.85" stroke-dashoffset="1.32"/><path d="M321.54999999999995 287.94H334.85" stroke-dashoffset="0" stroke-width="0.91"/></g>
<g stroke="#0a0a0a" stroke-width="2.0" stroke-dasharray="2.28 1.72"><path d="M392.55 229.45H405.25" stroke-dashoffset="0"/><path d="M392.55 231.45H405.25" stroke-dashoffset="2.0"/><path d="M392.55 233.45H405.25" stroke-dashoffset="0"/><path d="M392.55 234.82H405.25" stroke-dashoffset="2.0" stroke-width="0.75"/></g>
<g stroke="#0a0a0a" stroke-width="2.0" stroke-dasharray="2.28 1.72"><path d="M437.65000000000003 229.65H449.75" stroke-dashoffset="0"/><path d="M437.65000000000003 231.65H449.75" stroke-dashoffset="2.0"/><path d="M437.65000000000003 233.65H449.75" stroke-dashoffset="0"/><path d="M437.65000000000003 235.18H449.75" stroke-dashoffset="2.0" stroke-width="1.05"/></g>
</g></svg></body></html>
